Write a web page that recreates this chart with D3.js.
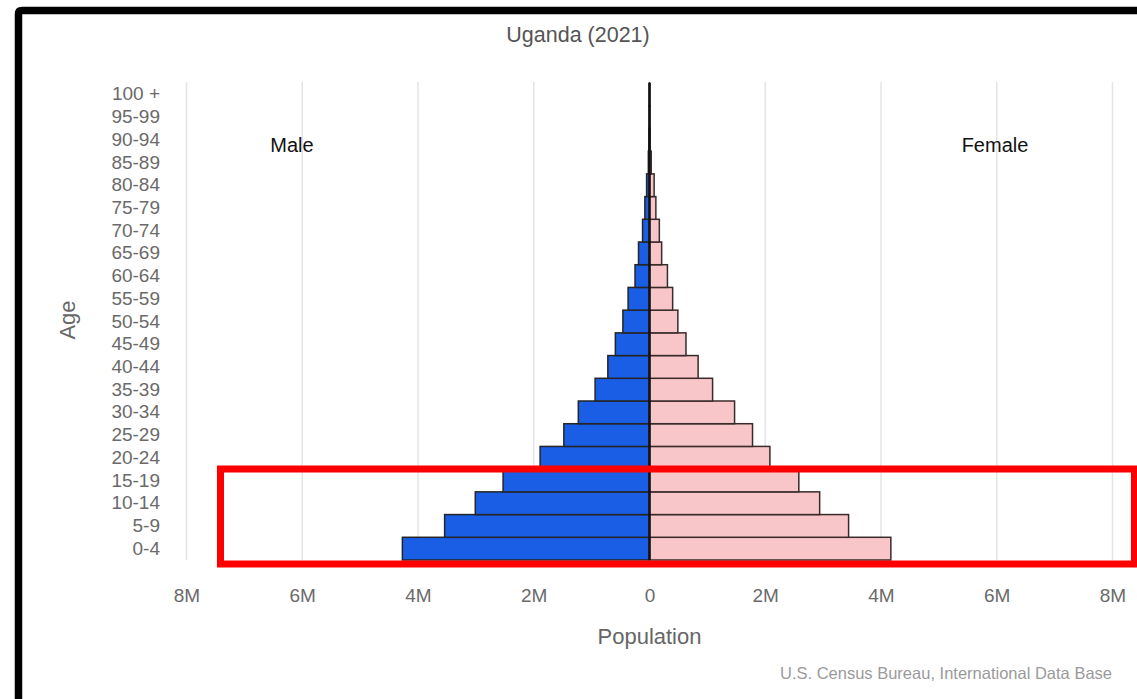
<!DOCTYPE html>
<html>
<head>
<meta charset="utf-8">
<script src="https://cdn.jsdelivr.net/npm/d3@7"></script>
<style>
  body { margin: 0; background: #fff; }
  svg { display: block; font-family: "Liberation Sans", Arial, sans-serif; }
</style>
</head>
<body>
<svg id="chart" width="1137" height="699"></svg>
<script>
  const ageGroups = ['0-4', '5-9', '10-14', '15-19', '20-24', '25-29', '30-34', '35-39', '40-44',
    '45-49', '50-54', '55-59', '60-64', '65-69', '70-74', '75-79', '80-84', '85-89', '90-94', '95-99', '100 +']
  // millions
  const male = [4.27, 3.54, 3.01, 2.53, 1.89, 1.48, 1.23, 0.94, 0.72, 0.59, 0.46, 0.37, 0.25, 0.19, 0.12, 0.08, 0.05, 0.02, 0.01, 0.003, 0.001]
  const female = [4.17, 3.44, 2.94, 2.58, 2.08, 1.78, 1.47, 1.09, 0.84, 0.63, 0.49, 0.40, 0.31, 0.21, 0.17, 0.11, 0.08, 0.03, 0.01, 0.003, 0.001]
  const xTicks = [-8, -6, -4, -2, 0, 2, 4, 6, 8]

  const svg = d3.select('#chart')

  const x = d3.scaleLinear().domain([-8, 8]).range([186.5, 1112.5])
  const y = d3.scaleBand().domain(ageGroups).range([560, 83]).padding(0)

  // gridlines
  svg.append('g').selectAll('line')
    .data(xTicks.filter(d => d !== 0))
    .join('line')
      .attr('x1', d => x(d)).attr('x2', d => x(d))
      .attr('y1', 82).attr('y2', 560)
      .attr('stroke', '#e4e4ea').attr('stroke-width', 1.5)

  // bars
  svg.append('g').selectAll('rect')
    .data(ageGroups)
    .join('rect')
      .attr('x', (d, i) => x(-male[i]))
      .attr('y', d => y(d))
      .attr('width', (d, i) => x(0) - x(-male[i]))
      .attr('height', y.bandwidth())
      .attr('fill', '#1a5ee6')
      .attr('stroke', '#252525').attr('stroke-width', 1.5)

  svg.append('g').selectAll('rect')
    .data(ageGroups)
    .join('rect')
      .attr('x', x(0))
      .attr('y', d => y(d))
      .attr('width', (d, i) => x(female[i]) - x(0))
      .attr('height', y.bandwidth())
      .attr('fill', '#f8c6c9')
      .attr('stroke', '#3a2a2a').attr('stroke-width', 1.5)

  // zero line
  svg.append('line')
    .attr('x1', x(0)).attr('x2', x(0))
    .attr('y1', 83).attr('y2', 560)
    .attr('stroke', '#111').attr('stroke-width', 2.5)

  // y axis labels
  const yAxis = d3.axisLeft(y).tickSize(0).tickPadding(0)
  svg.append('g')
    .attr('transform', 'translate(160,0)')
    .call(yAxis)
    .call(g => g.select('.domain').remove())
    .selectAll('text')
      .attr('font-size', 19).attr('fill', '#6a6a6a')
      .attr('font-family', '"Liberation Sans", Arial, sans-serif')

  // x axis labels
  const xAxis = d3.axisBottom(x).tickValues(xTicks).tickSize(0).tickPadding(0)
    .tickFormat(d => d === 0 ? '0' : Math.abs(d) + 'M')
  svg.append('g')
    .attr('transform', 'translate(0,588)')
    .call(xAxis)
    .call(g => g.select('.domain').remove())
    .selectAll('text')
      .attr('font-size', 19).attr('fill', '#6a6a6a')
      .attr('font-family', '"Liberation Sans", Arial, sans-serif')

  // titles and labels
  svg.append('text').attr('x', 578).attr('y', 42).attr('text-anchor', 'middle')
    .attr('font-size', 21.5).attr('fill', '#555').text('Uganda (2021)')
  svg.append('text').attr('x', 292).attr('y', 152).attr('text-anchor', 'middle')
    .attr('font-size', 20).attr('fill', '#111').text('Male')
  svg.append('text').attr('x', 995).attr('y', 152).attr('text-anchor', 'middle')
    .attr('font-size', 20).attr('fill', '#111').text('Female')
  svg.append('text').attr('x', x(0)).attr('y', 644).attr('text-anchor', 'middle')
    .attr('font-size', 22).attr('fill', '#666').text('Population')
  svg.append('text')
    .attr('transform', 'translate(75,320) rotate(-90)')
    .attr('text-anchor', 'middle')
    .attr('font-size', 22).attr('fill', '#666').text('Age')
  svg.append('text').attr('x', 1112).attr('y', 679).attr('text-anchor', 'end')
    .attr('font-size', 16.5).attr('fill', '#9a9a9a').text('U.S. Census Bureau, International Data Base')

  // black frame
  svg.append('path')
    .attr('d', 'M18.5,699 V14 Q18.5,10.5 22,10.5 H1137')
    .attr('fill', 'none').attr('stroke', '#000').attr('stroke-width', 7.5)

  // red highlight box
  svg.append('rect')
    .attr('x', 220.5).attr('y', 469).attr('width', 914).attr('height', 95)
    .attr('fill', 'none').attr('stroke', '#ff0000').attr('stroke-width', 7)
</script>
</body>
</html>
